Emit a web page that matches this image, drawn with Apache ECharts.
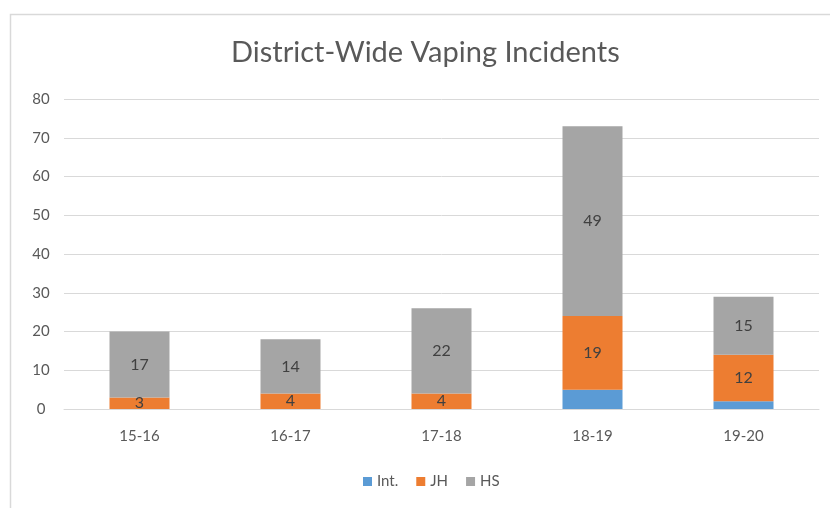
<!DOCTYPE html>
<html><head><meta charset="utf-8">
<script src="https://cdn.jsdelivr.net/npm/echarts@6/dist/echarts.min.js"></script>
<style>html,body{margin:0;padding:0;background:#fff}#c{width:830px;height:508px}</style>
</head><body><div id="c"></div>
<script>
const categories = ['15-16','16-17','17-18','18-19','19-20'];
const intValues = [0, 0, 0, 5, 2];
const jhValues = [3, 4, 4, 19, 12];
const hsValues = [17, 14, 22, 49, 15];
const yTicks = [0,10,20,30,40,50,60,70,80];

const chart = echarts.init(document.getElementById('c'), null, {renderer:'canvas'});
const font = 'Lato, "Open Sans", sans-serif';
const lbl = {show:true, position:'inside', color:'#404040', fontSize:16, fontFamily:font};
chart.setOption({
  animation:false,
  textStyle:{fontFamily:font},
  graphic:[{type:'rect', shape:{x:10.5,y:14.5,width:840,height:520}, style:{fill:'none', stroke:'#d9d9d9', lineWidth:1.5}, silent:true}],
  title:{text:'District-Wide Vaping Incidents', left:226, top:33, textStyle:{fontSize:29, fontWeight:'normal', color:'#595959', fontFamily:font}},
  legend:{bottom:14, left:358, itemWidth:9, itemHeight:9, itemGap:18, icon:'rect', textStyle:{color:'#595959', fontSize:15, fontFamily:font},
    data:['Int.','JH','HS']},
  grid:{left:64, right:11, top:99, bottom:99, containLabel:false},
  xAxis:{type:'category', data:categories, axisLine:{lineStyle:{color:'#d9d9d9'}}, axisTick:{show:false},
    axisLabel:{color:'#595959', fontSize:15, margin:20, fontFamily:font}},
  yAxis:{type:'value', min:0, max:80, interval:10, axisLine:{show:false}, axisTick:{show:false},
    splitLine:{lineStyle:{color:'#d9d9d9'}},
    axisLabel:{color:'#595959', fontSize:15, margin:23, align:'center', fontFamily:font}},
  series:[
    {name:'Int.', type:'bar', stack:'a', data:intValues, barWidth:60, itemStyle:{color:'#5B9BD5'}, label:{show:false}},
    {name:'JH', type:'bar', stack:'a', data:jhValues, barWidth:60, itemStyle:{color:'#ED7D31'}, label:lbl},
    {name:'HS', type:'bar', stack:'a', data:hsValues, barWidth:60, itemStyle:{color:'#A5A5A5'}, label:lbl}
  ]
});
</script></body></html>
